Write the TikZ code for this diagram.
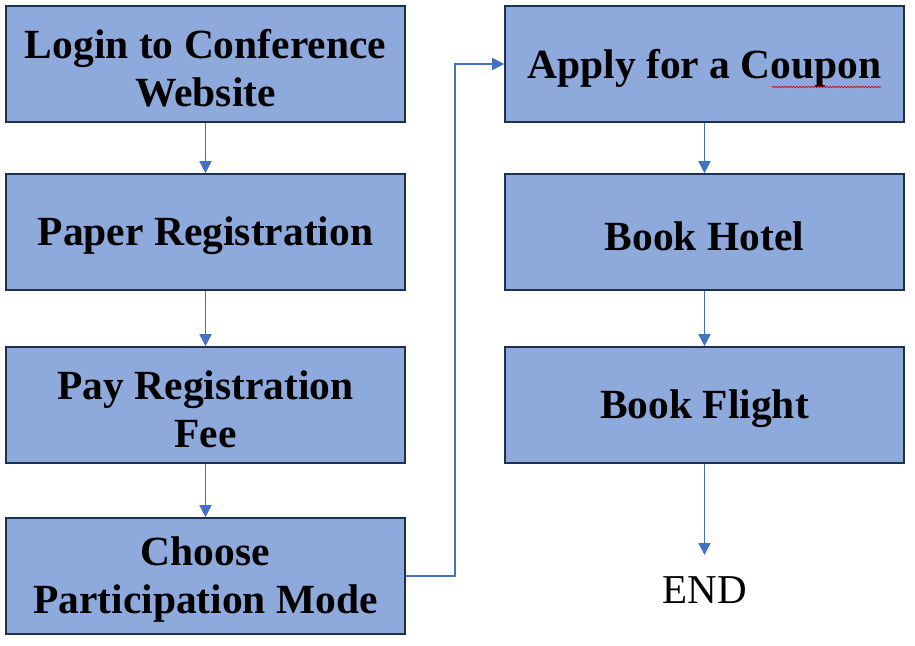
\documentclass[tikz,border=0pt]{standalone}
\usepackage{fontspec}
\setmainfont{Liberation Serif}
\usetikzlibrary{arrows.meta,decorations.pathmorphing}
\definecolor{boxfill}{HTML}{8EA9DB}
\definecolor{boxline}{HTML}{1F3050}
\definecolor{arrowc}{HTML}{4472C4}
\begin{document}
\begin{tikzpicture}[x=1pt,y=-1pt,
  stepbox/.style={draw=boxline,line width=1.6pt,fill=boxfill,minimum width=399pt,minimum height=116pt,inner sep=0pt,
    label={[align=center,font=\fontsize{41.5}{48}\selectfont\bfseries,inner sep=0pt,yshift=-4pt]center:#1}},
  conn/.style={draw=arrowc,line width=1.6pt,-{Triangle[length=12pt,width=12pt]}}]
\useasboundingbox (0,0) rectangle (915,645);
\fill[white] (0,0) rectangle (915,645);
\node[stepbox={Login to Conference\\Website}] (login) at (205.5,64) {};
\node[stepbox={Paper Registration}] (paper) at (205.5,232) {};
\node[stepbox={Pay Registration\\Fee}] (pay) at (205.5,405) {};
\node[stepbox={Choose\\Participation Mode}] (choose) at (205.5,576) {};
\node[stepbox={Apply for a Coupon}] (coupon) at (704.5,64) {};
\node[stepbox={Book Hotel}] (hotel) at (704.5,232) {};
\node[stepbox={Book Flight}] (flight) at (704.5,405) {};
\node[font=\fontsize{41}{48}\selectfont,inner sep=0pt] (end) at (704.5,590) {END};
\coordinate (endtip) at (704.5,555);
\coordinate (bend) at (455,0);
\draw[conn] (login.south) -- (paper.north);
\draw[conn] (paper.south) -- (pay.north);
\draw[conn] (pay.south) -- (choose.north);
\draw[conn] (coupon.south) -- (hotel.north);
\draw[conn] (hotel.south) -- (flight.north);
\draw[conn] (flight.south) -- (endtip);
\draw[conn] (choose.east) -| (bend |- coupon.west) -- (coupon.west);
\draw[red!80!black,line width=0.6pt,decorate,decoration={snake,amplitude=0.8pt,segment length=3pt}] (772,87) -- (881,87);
\end{tikzpicture}
\end{document}
